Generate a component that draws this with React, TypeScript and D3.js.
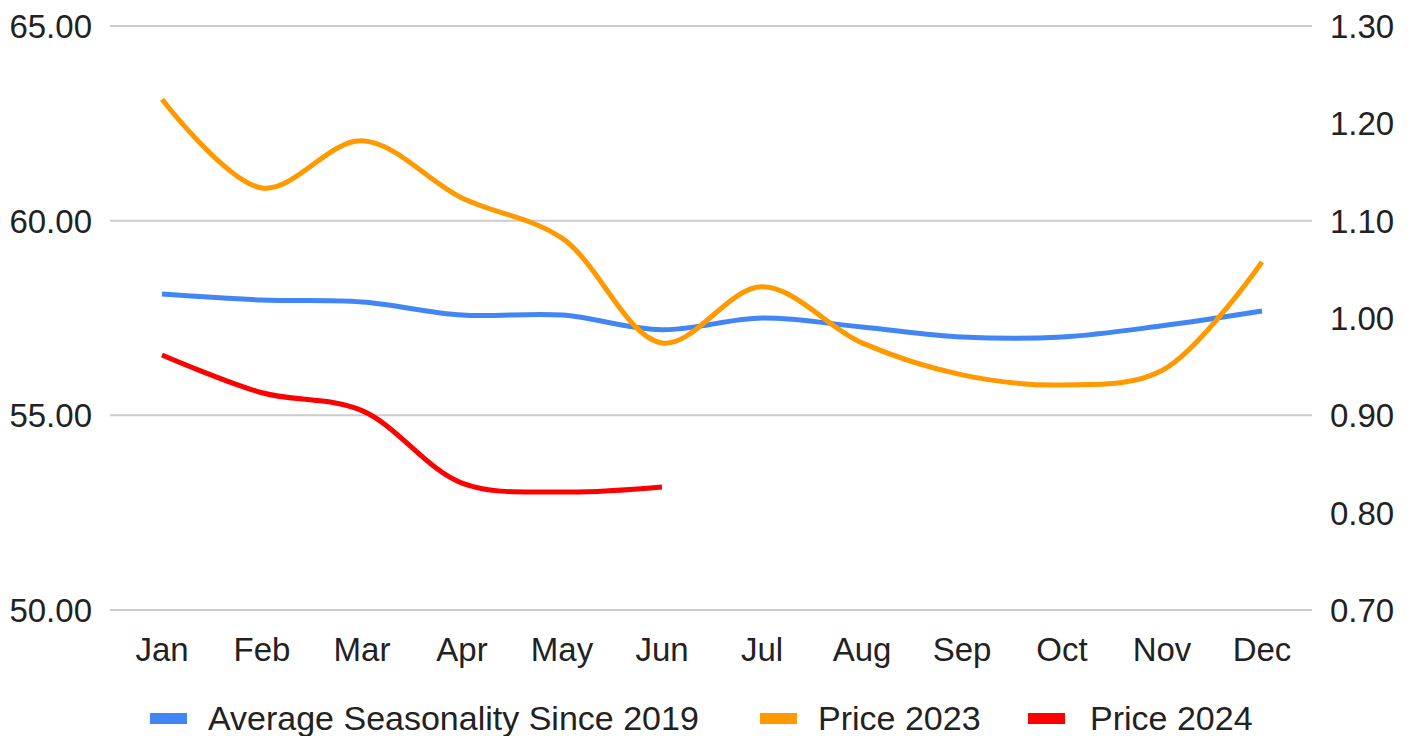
import React from "react";
import * as d3 from "d3";

const months = ["Jan", "Feb", "Mar", "Apr", "May", "Jun", "Jul", "Aug", "Sep", "Oct", "Nov", "Dec"];
const avgSeasonality = [1.0247, 1.0185, 1.0164, 1.003, 1.003, 0.988, 1.0, 0.9907, 0.9805, 0.9805, 0.992, 1.0072];
const price2023 = [63.12, 60.84, 62.05, 60.58, 59.55, 56.86, 58.3, 56.86, 56.04, 55.78, 56.15, 58.94];
const price2024 = [56.55, 55.58, 55.12, 53.26, 53.03, 53.16];
const leftTicks = [50, 55, 60, 65];
const rightTicks = [0.7, 0.8, 0.9, 1.0, 1.1, 1.2, 1.3];
const legendItems = [
  { label: "Average Seasonality Since 2019", color: "#4285F4" },
  { label: "Price 2023", color: "#FF9900" },
  { label: "Price 2024", color: "#FF0000" },
];

const W = 1415;
const H = 736;
const plotLeft = 112;
const plotRight = 1312;
const plotTop = 26;
const plotBottom = 610;
const font = "'Liberation Sans', Arial, sans-serif";
const textColor = "#222";

export default function App() {
  const x = d3.scalePoint<string>().domain(months).range([plotLeft, plotRight]).padding(0.5);
  const yL = d3.scaleLinear().domain([50, 65]).range([plotBottom, plotTop]);
  const yR = d3.scaleLinear().domain([0.7, 1.3]).range([plotBottom, plotTop]);

  const curve = d3.curveCatmullRom.alpha(0.5);
  const lineL = d3
    .line<number>()
    .x((_, i) => x(months[i]) as number)
    .y((d) => yL(d))
    .curve(curve);
  const lineR = d3
    .line<number>()
    .x((_, i) => x(months[i]) as number)
    .y((d) => yR(d))
    .curve(curve);

  const legendX = [150, 760, 1028];
  const legendTextX = [208, 818, 1090];

  return (
    <svg
      width={W}
      height={H}
      style={{ position: "absolute", left: 0, top: 0, background: "#fff" }}
      fontFamily={font}
    >
      <rect x={0} y={0} width={W} height={H} fill="#fff" />
      {leftTicks.map((t) => (
        <g key={"l" + t}>
          <line x1={110} x2={plotRight} y1={yL(t)} y2={yL(t)} stroke="#cccccc" strokeWidth={2} />
          <text x={92} y={yL(t) + 12} textAnchor="end" fontSize={33} fill={textColor}>
            {d3.format(".2f")(t)}
          </text>
        </g>
      ))}
      {rightTicks.map((t) => (
        <text key={"r" + t} x={1330} y={yR(t) + 12} textAnchor="start" fontSize={33} fill={textColor}>
          {d3.format(".2f")(t)}
        </text>
      ))}
      {months.map((m) => (
        <text key={m} x={x(m)} y={661} textAnchor="middle" fontSize={33} fill={textColor}>
          {m}
        </text>
      ))}
      <path d={lineR(avgSeasonality) || ""} fill="none" stroke="#4285F4" strokeWidth={5} />
      <path d={lineL(price2023) || ""} fill="none" stroke="#FF9900" strokeWidth={5} />
      <path d={lineL(price2024) || ""} fill="none" stroke="#FF0000" strokeWidth={5} />
      {legendItems.map((it, i) => (
        <g key={it.label}>
          <rect x={legendX[i]} y={713} width={37} height={11} fill={it.color} />
          <text x={legendTextX[i]} y={730} fontSize={34} fill={textColor}>
            {it.label}
          </text>
        </g>
      ))}
    </svg>
  );
}
